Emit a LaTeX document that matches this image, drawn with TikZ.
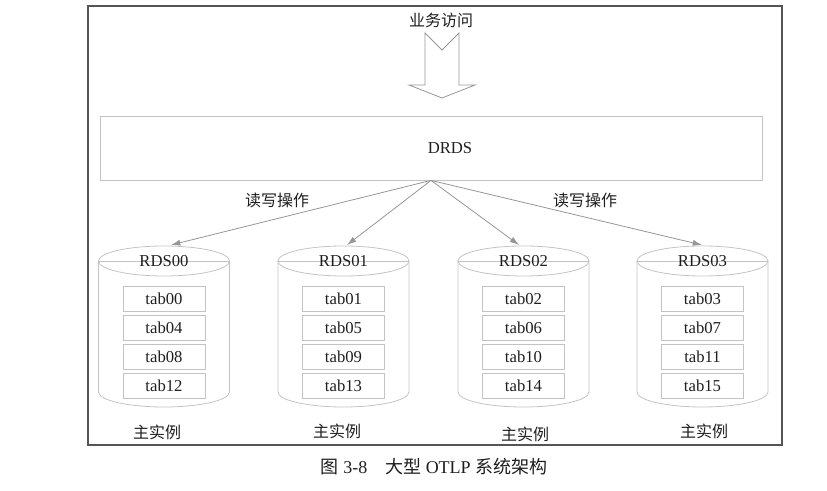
\documentclass[tikz,border=0pt]{standalone}
\usepackage{fontspec}
\setmainfont{Liberation Serif}
\newfontfamily\cjk{Noto Sans CJK SC}
\usetikzlibrary{arrows.meta, positioning}
\definecolor{ogframe}{RGB}{85,85,85}
\definecolor{ogline}{RGB}{195,195,195}
\definecolor{ogarrow}{RGB}{150,150,150}
\definecolor{ogtext}{RGB}{30,30,30}

\begin{document}
\begin{tikzpicture}[x=0.75pt, y=0.75pt,
  box/.style={draw=ogline, line width=0.6pt, inner sep=0pt},
  tabbox/.style={box, minimum width=61.5pt, minimum height=19pt, text=ogtext, font=\fontsize{12.5}{14}\selectfont},
  link/.style={draw=ogarrow, line width=0.6pt, -{Latex[length=7pt,width=4.5pt]}},
  lbl/.style={text=ogtext, font=\fontsize{12.5}{14}\selectfont},
  cjklbl/.style={text=ogtext, font=\cjk\fontsize{12}{14}\selectfont}]
% outer
\useasboundingbox (0,0) rectangle (827,491);
\draw[ogframe, line width=0.9pt] (88,46) rectangle (782,485);

% access arrow
\node[cjklbl] (access) at (441,471) {业务访问};
\draw[ogarrow, line width=0.6pt] (425,458) -- (442,441) -- (459,458) -- (459,406)
  -- (475,406) -- (442,393) -- (409,406) -- (425,406) -- cycle;

% DRDS
\node[box, minimum width=496.5pt, minimum height=48pt] (drds) at (431,343) {};
\node[lbl] (drdstext) at (450,343) {DRDS};

% cylinders + tables
\foreach \i/\cx/\ax in {0/164/171, 1/343.5/347, 2/523.5/519, 3/702.5/702} {
  \draw[ogline, line width=0.6pt] (\cx-65.5,230) -- (\cx-65.5,99)
    arc[start angle=180, end angle=360, x radius=49.1pt, y radius=11.25pt] -- (\cx+65.5,230);
  \draw[ogline, line width=0.6pt] (\cx,230) ellipse[x radius=49.1pt, y radius=11.25pt];
  \draw[ogline, line width=0.6pt] (\cx-65.5,230) -- (\cx+65.5,230);
  \node[lbl] (rds\i) at (\cx,230) {RDS0\i};
  \coordinate (rds\i top) at (\ax,246);
  \foreach \r/\ty in {0/192, 1/163, 2/134, 3/105} {
    \pgfmathtruncatemacro\tabno{4*\r+\i}
    \node[tabbox] (tab\i\r) at (\cx,\ty) {tab\ifnum\tabno<10 0\fi\tabno};
  }
}

% read/write links
\foreach \i in {0,...,3}
  \draw[link] (drds.south) -- (rds\i top);
\node[cjklbl] (rwleft)  at (277,291) {读写操作};
\node[cjklbl] (rwright) at (585,291) {读写操作};

% instance labels
\node[cjklbl] (main0) at (157,59) {主实例};
\node[cjklbl] (main1) at (337,60) {主实例};
\node[cjklbl] (main2) at (525,57) {主实例};
\node[cjklbl] (main3) at (704,60) {主实例};

% caption
\node[lbl, font=\fontsize{13.5}{15}\selectfont] (caption) at (434,24)
  {{\cjk 图} 3-8\quad{\cjk 大型} OTLP {\cjk 系统架构}};
\end{tikzpicture}
\end{document}
